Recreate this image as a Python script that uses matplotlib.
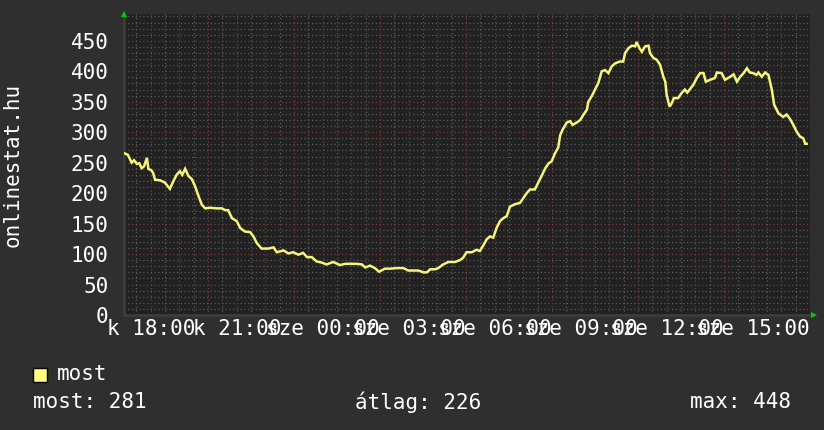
import matplotlib
matplotlib.use("Agg")
import matplotlib.pyplot as plt
from matplotlib.patches import Rectangle
import numpy as np

# minutes relative to 18:00 of the first day
minutes = [-54, -48, -40, -35, -29, -24, -19, -14, -8, -5, 2, 5, 9, 20, 30, 40, 47, 54, 61, 66,
           72, 79, 86, 93, 100, 107, 114, 124, 138, 149, 156, 162, 170, 180, 187, 197, 208, 215, 222, 232,
           246, 257, 264, 278, 288, 298, 309, 319, 327, 337, 347, 358, 368, 382, 396, 407, 417, 431, 442, 449,
           459, 469, 478, 490, 501, 515, 529, 539, 550, 560, 571, 578, 585, 595, 602, 612, 623, 637, 647, 654,
           661, 672, 682, 689, 696, 703, 710, 717, 724, 731, 738, 745, 752, 763, 773, 780, 787, 794, 804, 811,
           818, 826, 833, 839, 846, 853, 857, 862, 871, 878, 883, 892, 899, 906, 913, 916, 923, 930, 937, 944,
           951, 958, 965, 972, 982, 989, 993, 1000, 1007, 1014, 1017, 1023, 1028, 1035, 1042, 1045, 1052, 1059, 1066, 1073,
           1077, 1080, 1086, 1091, 1095, 1104, 1111, 1118, 1123, 1129, 1136, 1143, 1150, 1157, 1162, 1171, 1181, 1185, 1195, 1202,
           1213, 1220, 1227, 1234, 1241, 1248, 1254, 1261, 1268, 1272, 1279, 1286, 1293, 1300, 1305, 1314, 1324, 1331, 1338, 1345,
           1352, 1359, 1366, 1370, 1373]
values = [265, 263, 250, 254, 248, 249, 241, 244, 258, 240, 237, 233, 222, 221, 217, 207, 219, 230, 236, 230,
          240, 228, 223, 211, 195, 181, 175, 176, 175, 175, 172, 172, 159, 154, 143, 137, 136, 129, 118, 109,
          109, 111, 103, 106, 101, 103, 99, 102, 95, 95, 88, 86, 83, 87, 82, 84, 84, 84, 83, 78,
          81, 77, 71, 76, 76, 77, 77, 73, 73, 73, 70, 70, 75, 75, 77, 83, 87, 87, 90, 94,
          103, 103, 107, 105, 114, 124, 129, 127, 143, 154, 159, 162, 178, 182, 184, 192, 200, 206, 206, 217,
          228, 241, 249, 252, 265, 275, 295, 304, 316, 318, 312, 316, 320, 329, 337, 350, 359, 370, 381, 400,
          402, 397, 408, 413, 416, 416, 430, 438, 442, 441, 448, 438, 432, 441, 442, 430, 422, 419, 411, 391,
          383, 361, 342, 348, 356, 356, 364, 370, 365, 371, 378, 389, 397, 397, 383, 386, 389, 398, 397, 386,
          391, 395, 383, 391, 397, 405, 398, 397, 394, 398, 391, 398, 394, 370, 345, 331, 325, 329, 322, 312,
          301, 293, 290, 281, 281]

tick_minutes = [0, 180, 360, 540, 720, 900, 1080, 1260]
tick_labels = ["k 18:00", "k 21:00", "sze 00:00", "sze 03:00", "sze 06:00", "sze 09:00", "sze 12:00", "sze 15:00"]
y_ticks = [0, 50, 100, 150, 200, 250, 300, 350, 400, 450]

legend_name = "most"
stat_labels = ["most: 281", "átlag: 226", "max: 448"]
y_title = "onlinestat.hu"

BG = "#2f2f2f"
PLOT_BG = "#212121"
LINE = "#f5f57a"
MINOR = "#5a5a5a"
MAJOR = "#7a3838"
FONT = "DejaVu Sans Mono"
FS = 15

fig = plt.figure(figsize=(8.24, 4.30), dpi=100, facecolor=BG)
ax = fig.add_axes([124/824, 115/430, (810-124)/824, (315-14)/430])
ax.set_facecolor(PLOT_BG)
xmin, xmax = -56, 1380
ax.set_xlim(xmin, xmax)
ax.set_ylim(0, 494)

# grid
for yv in np.arange(10, 494, 10):
    major = (yv % 50 == 0)
    ax.axhline(yv, color=MAJOR if major else MINOR, lw=0.9, ls=(0, (1, 2)), zorder=1)
for xv in np.arange(-30, xmax, 30):
    major = (xv % 60 == 0)
    ax.axvline(xv, color=MAJOR if major else MINOR, lw=0.9, ls=(0, (1, 2)), zorder=1)

ax.plot(minutes, values, color=LINE, lw=1.8, zorder=3, solid_joinstyle="miter")

ax.set_yticks(y_ticks)
ax.set_yticklabels([str(v) for v in y_ticks], fontfamily=FONT, fontsize=FS, color="white")
ax.set_xticks(tick_minutes)
ax.set_xticklabels(tick_labels, fontfamily=FONT, fontsize=FS, color="white")
ax.tick_params(axis="both", length=0)
ax.tick_params(axis="y", pad=11)
ax.tick_params(axis="x", pad=3)

for s in ["top", "right"]:
    ax.spines[s].set_visible(False)
for s in ["left", "bottom"]:
    ax.spines[s].set_color("#3c3c3c")
    ax.spines[s].set_linewidth(2)

# arrows
ax.plot([0], [1.0], transform=ax.transAxes, marker="^", color="#00cc00", ms=5, clip_on=False,
        markeredgewidth=0, zorder=5)
ax.plot([1.0 + 4/686], [0], transform=ax.transAxes, marker=">", color="#00cc00", ms=5, clip_on=False,
        markeredgewidth=0, zorder=5)

fig.text(13/824, 1 - 165/430, y_title, rotation=90, ha="center", va="center",
         fontfamily=FONT, fontsize=FS, color="white")

# legend
fig.patches.append(Rectangle((33/824, (430 - 382)/430), 14/824, 14/430, transform=fig.transFigure,
                             facecolor="#ffff80", edgecolor="black", lw=1))
fig.text(57/824, 1 - 374/430, legend_name, ha="left", va="center", fontfamily=FONT, fontsize=FS, color="white")
fig.text(33/824, 1 - 402/430, stat_labels[0], ha="left", va="center", fontfamily=FONT, fontsize=FS, color="white")
fig.text(355/824, 1 - 402/430, stat_labels[1], ha="left", va="center", fontfamily=FONT, fontsize=FS, color="white")
fig.text(791/824, 1 - 402/430, stat_labels[2], ha="right", va="center", fontfamily=FONT, fontsize=FS, color="white")

fig.savefig("out.png", dpi=100, facecolor=BG)
